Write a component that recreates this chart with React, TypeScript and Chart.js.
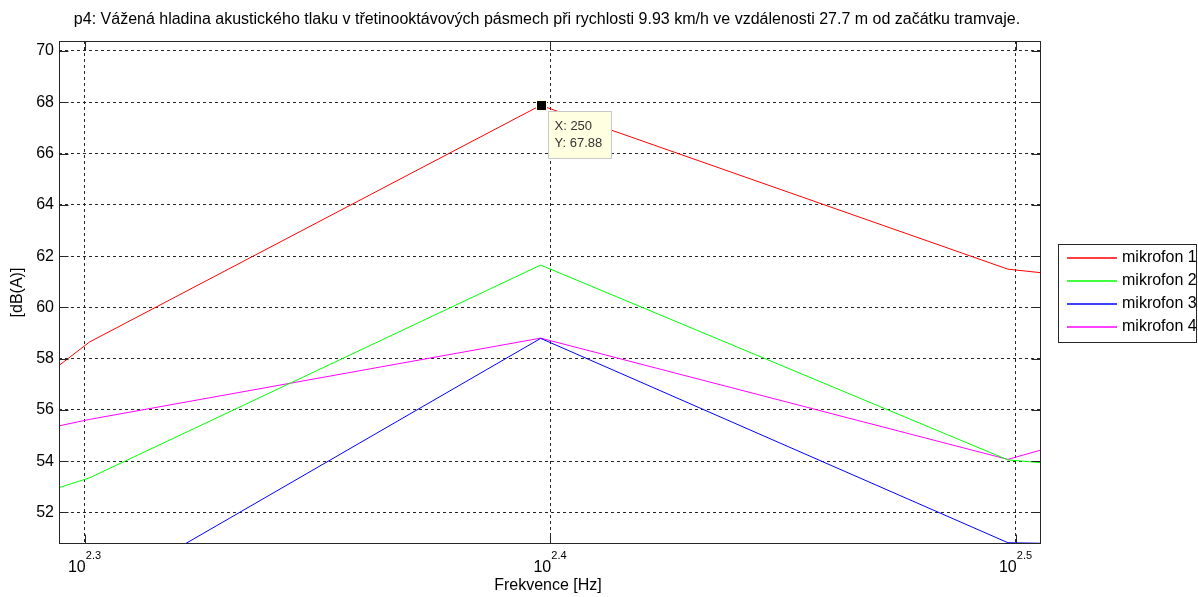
import { useEffect, useRef } from "react";
import { Chart, registerables } from "chart.js";

Chart.register(...registerables);

const titleText =
  "p4: Vážená hladina akustického tlaku v třetinooktávových pásmech při rychlosti 9.93 km/h ve vzdálenosti 27.7 m od začátku tramvaje.";
const xAxisTitle = "Frekvence [Hz]";
const yAxisTitle = "[dB(A)]";

// third-octave band centre frequencies [Hz]
const frequencies = [160, 200, 250, 315, 400];

// A-weighted levels per microphone [dB(A)]
const mikrofon1 = [45.1, 58.65, 67.88, 61.49, 59.47];
const mikrofon2 = [47.7, 53.35, 61.65, 54.05, 52.46];
const mikrofon3 = [44.0, 48.62, 58.79, 50.82, 50.5];
const mikrofon4 = [51.9, 55.63, 58.8, 54.07, 59.4];

const seriesLabels = ["mikrofon 1", "mikrofon 2", "mikrofon 3", "mikrofon 4"];
const seriesValues = [mikrofon1, mikrofon2, mikrofon3, mikrofon4];
const seriesColors = ["#ff0000", "#00ff00", "#0000ff", "#ff00ff"];

// axis ticks
const xTickExponents = [2.3, 2.4, 2.5];
const yTickValues = [52, 54, 56, 58, 60, 62, 64, 66, 68, 70];
const xLimits = [197.0, 320.2];
const yLimits = [50.77, 70.39];

// data cursor
const tipFrequency = 250;
const tipLevel = 67.88;

const FONT = '"Liberation Sans", Arial, sans-serif';
const INK = "#262626";

const decorations = {
  id: "matlabDecorations",
  afterDraw(chart: any) {
    const { ctx, chartArea: a } = chart;
    const xs = chart.scales.x;
    const ys = chart.scales.y;
    ctx.save();

    // axes box with inward tick marks
    ctx.strokeStyle = INK;
    ctx.lineWidth = 1;
    ctx.setLineDash([]);
    const L = Math.round(a.left) + 0.5;
    const R = Math.round(a.right) - 0.5;
    const T = Math.round(a.top) + 0.5;
    const B = Math.round(a.bottom) - 0.5;
    ctx.strokeRect(L, T, R - L, B - T);
    const tl = 9;
    ctx.beginPath();
    xTickExponents.forEach((e) => {
      const px = Math.round(xs.getPixelForValue(Math.pow(10, e))) + 0.5;
      ctx.moveTo(px, B);
      ctx.lineTo(px, B - tl);
      ctx.moveTo(px, T);
      ctx.lineTo(px, T + tl);
    });
    yTickValues.forEach((v) => {
      const py = Math.round(ys.getPixelForValue(v)) + 0.5;
      ctx.moveTo(L, py);
      ctx.lineTo(L + tl, py);
      ctx.moveTo(R, py);
      ctx.lineTo(R - tl, py);
    });
    ctx.stroke();

    // x tick labels as 10^exponent
    ctx.fillStyle = "#000";
    xTickExponents.forEach((e) => {
      const px = xs.getPixelForValue(Math.pow(10, e));
      ctx.font = `16px ${FONT}`;
      ctx.textAlign = "right";
      ctx.textBaseline = "alphabetic";
      ctx.fillText("10", px + 1, 572);
      ctx.font = `11px ${FONT}`;
      ctx.textAlign = "left";
      ctx.fillText(String(e), px + 1, 559);
    });

    // title and axis titles
    ctx.font = `16px ${FONT}`;
    ctx.textAlign = "center";
    ctx.textBaseline = "middle";
    ctx.fillText(titleText, 547, 20);
    ctx.fillText(xAxisTitle, (a.left + a.right) / 2 - 2, 586);
    ctx.save();
    ctx.translate(18, (a.top + a.bottom) / 2);
    ctx.rotate(-Math.PI / 2);
    ctx.fillText(yAxisTitle, 0, 0);
    ctx.restore();

    // legend
    const lx = 1058;
    const ly = 244;
    ctx.fillStyle = "#fff";
    ctx.fillRect(lx, ly, 138, 98);
    ctx.strokeStyle = INK;
    ctx.strokeRect(lx + 0.5, ly + 0.5, 138, 98);
    chart.data.datasets.forEach((ds: any, i: number) => {
      const ry = ly + 14 + i * 23;
      ctx.strokeStyle = ds.borderColor;
      ctx.lineWidth = 1.3;
      ctx.beginPath();
      ctx.moveTo(lx + 9, ry);
      ctx.lineTo(lx + 59, ry);
      ctx.stroke();
      ctx.lineWidth = 1;
      ctx.fillStyle = "#000";
      ctx.font = `16px ${FONT}`;
      ctx.textAlign = "left";
      ctx.textBaseline = "middle";
      ctx.fillText(ds.label, lx + 64, ry);
    });

    // data cursor marker and tip
    const mx = xs.getPixelForValue(tipFrequency);
    const my = ys.getPixelForValue(tipLevel);
    ctx.fillStyle = "#ffffe1";
    ctx.fillRect(Math.round(mx) - 5, Math.round(my) - 5, 11, 11);
    ctx.fillStyle = "#000";
    ctx.fillRect(Math.round(mx) - 4, Math.round(my) - 4, 9, 9);
    const bx = Math.round(mx) + 7.5;
    const by = Math.round(my) + 6.5;
    ctx.fillStyle = "#ffffe1";
    ctx.fillRect(bx, by, 63, 47);
    ctx.strokeStyle = "#c8c8c8";
    ctx.strokeRect(bx, by, 63, 47);
    ctx.fillStyle = "#333";
    ctx.font = `13px ${FONT}`;
    ctx.textAlign = "left";
    ctx.textBaseline = "middle";
    ctx.fillText(`X: ${tipFrequency}`, bx + 6, by + 15);
    ctx.fillText(`Y: ${tipLevel.toFixed(2)}`, bx + 6, by + 32);

    ctx.restore();
  },
};

export default function App() {
  const canvasRef = useRef<HTMLCanvasElement | null>(null);

  useEffect(() => {
    const canvas = canvasRef.current;
    if (!canvas) return;
    const chart = new Chart(canvas, {
      type: "line",
      data: {
        datasets: seriesValues.map((vals, i) => ({
          label: seriesLabels[i],
          data: frequencies.map((f, k) => ({ x: f, y: vals[k] })),
          borderColor: seriesColors[i],
          backgroundColor: seriesColors[i],
          borderWidth: 1,
          pointRadius: 0,
          tension: 0,
          fill: false,
        })),
      },
      options: {
        animation: false,
        responsive: false,
        devicePixelRatio: 1,
        events: [],
        layout: { padding: { top: 41, right: 157, left: 0, bottom: 0 } },
        plugins: {
          legend: { display: false },
          title: { display: false },
          tooltip: { enabled: false },
        },
        scales: {
          x: {
            type: "logarithmic",
            min: xLimits[0],
            max: xLimits[1],
            afterBuildTicks: (s: any) => {
              s.ticks = xTickExponents.map((e) => ({ value: Math.pow(10, e) }));
            },
            afterFit: (s: any) => {
              s.height = 53;
            },
            ticks: { display: false },
            grid: { color: INK, lineWidth: 1, drawTicks: false },
            border: { display: false, dash: [3, 3] },
          },
          y: {
            type: "linear",
            min: yLimits[0],
            max: yLimits[1],
            afterBuildTicks: (s: any) => {
              s.ticks = yTickValues.map((v) => ({ value: v }));
            },
            afterFit: (s: any) => {
              s.width = 59;
            },
            ticks: {
              color: "#000",
              padding: 5,
              font: { family: FONT, size: 16 },
              callback: (v: any) => String(v),
            },
            grid: { color: INK, lineWidth: 1, drawTicks: false },
            border: { display: false, dash: [3, 3] },
          },
        },
      },
      plugins: [decorations],
    });
    return () => chart.destroy();
  }, []);

  return (
    <div style={{ position: "absolute", left: 0, top: 0, width: 1198, height: 597, background: "#fff" }}>
      <canvas ref={canvasRef} width={1198} height={597} />
    </div>
  );
}
